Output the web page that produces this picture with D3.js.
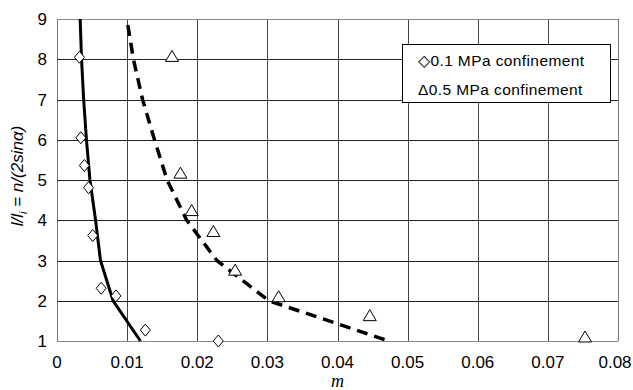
<!DOCTYPE html>
<html>
<head>
<meta charset="utf-8">
<script src="https://cdn.jsdelivr.net/npm/d3@7"></script>
<style>
  body { margin: 0; background: #fff; }
  text { font-family: "Liberation Sans", Arial, sans-serif; }
</style>
</head>
<body>
<div id="chart"></div>
<script>
// measured points, 0.1 MPa confinement
var m01 = [0.0032, 0.0034, 0.0039, 0.0045, 0.0051, 0.0063, 0.0084, 0.0126, 0.0230];
var l01 = [8.05, 6.05, 5.36, 4.81, 3.62, 2.31, 2.12, 1.27, 1.0];
// measured points, 0.5 MPa confinement
var m05 = [0.0164, 0.0176, 0.0192, 0.0223, 0.0254, 0.0316, 0.0446, 0.0753];
var l05 = [8.07, 5.17, 4.24, 3.72, 2.76, 2.1, 1.63, 1.1];
// model curves
var fit01_m = [0.0033, 0.0035, 0.0038, 0.0042, 0.0047, 0.0055, 0.0062, 0.0080, 0.0119];
var fit01_l = [9, 8, 7, 6, 5, 4, 3, 2, 1];
var fit05_m = [0.0101, 0.0109, 0.0122, 0.0139, 0.0157, 0.0185, 0.0228, 0.0302, 0.0473];
var fit05_l = [8.85, 8, 7, 6, 5, 4, 3, 2, 1];

var xTicks = [0, 0.01, 0.02, 0.03, 0.04, 0.05, 0.06, 0.07, 0.08];
var yTicks = [1, 2, 3, 4, 5, 6, 7, 8, 9];

var W = 633, H = 390;
var margin = {left: 57, right: 15, top: 19, bottom: 49};

var svg = d3.select("#chart").append("svg")
  .attr("width", W).attr("height", H);

var x = d3.scaleLinear().domain([0, 0.08]).range([margin.left, W - margin.right]);
var y = d3.scaleLinear().domain([1, 9]).range([H - margin.bottom, margin.top]);

// grid
svg.append("g").selectAll("line.v")
  .data(xTicks).enter().append("line")
  .attr("x1", function(d){ return Math.round(x(d)) + 0.5; })
  .attr("x2", function(d){ return Math.round(x(d)) + 0.5; })
  .attr("y1", y(9)).attr("y2", y(1))
  .style("stroke", function(d, i){ return (i == 0 || i == xTicks.length - 1) ? "#777" : "#444"; });

svg.append("g").selectAll("line.h")
  .data(yTicks).enter().append("line")
  .attr("y1", function(d){ return Math.round(y(d)) + 0.5; })
  .attr("y2", function(d){ return Math.round(y(d)) + 0.5; })
  .attr("x1", x(0)).attr("x2", x(0.08))
  .style("stroke", function(d, i){ return (i == 0 || i == yTicks.length - 1) ? "#888" : "#222"; });

// tick labels
svg.append("g").selectAll("text")
  .data(xTicks).enter().append("text")
  .attr("x", function(d, i){ return x(d) - (i == xTicks.length - 1 ? 3 : 0); })
  .attr("y", H - margin.bottom + 27)
  .attr("text-anchor", "middle")
  .style("font-size", "17px")
  .text(function(d){ return d === 0 ? "0" : d3.format(".2f")(d); });

svg.append("g").selectAll("text")
  .data(yTicks).enter().append("text")
  .attr("x", margin.left - 10)
  .attr("y", function(d){ return y(d) + 6; })
  .attr("text-anchor", "end")
  .style("font-size", "17px")
  .text(function(d){ return d; });

// axis titles
svg.append("text")
  .attr("x", (x(0) + x(0.08)) / 2)
  .attr("y", H - 3)
  .attr("text-anchor", "middle")
  .style("font-family", "'Liberation Serif', serif")
  .style("font-size", "18px").style("font-style", "italic")
  .text("m");

var yt = svg.append("text")
  .attr("transform", "translate(23," + 176 + ") rotate(-90)")
  .attr("text-anchor", "middle")
  .style("font-size", "17px").style("font-style", "italic");
yt.append("tspan").text("l/l");
yt.append("tspan").attr("dy", 4).style("font-size", "11px").text("i");
yt.append("tspan").attr("dy", -4).text(" = n/(2sin");
yt.append("tspan").text("α)");

// model lines
var line = d3.line()
  .x(function(d){ return x(d[0]); })
  .y(function(d){ return y(d[1]); });

svg.append("path")
  .datum(d3.zip(fit01_m, fit01_l))
  .attr("d", line)
  .style("fill", "none").style("stroke", "#000").style("stroke-width", 3);

svg.append("path")
  .datum(d3.zip(fit05_m, fit05_l))
  .attr("d", line)
  .style("fill", "none").style("stroke", "#000").style("stroke-width", 3.5)
  .style("stroke-dasharray", "11,7");

// markers
svg.append("g").selectAll("path")
  .data(d3.zip(m01, l01)).enter().append("path")
  .attr("transform", function(d){ return "translate(" + x(d[0]) + "," + y(d[1]) + ")"; })
  .attr("d", "M0,-6L5,0L0,6L-5,0Z")
  .style("fill", "#fff").style("stroke", "#000").style("stroke-width", 1);

svg.append("g").selectAll("path")
  .data(d3.zip(m05, l05)).enter().append("path")
  .attr("transform", function(d){ return "translate(" + x(d[0]) + "," + y(d[1]) + ")"; })
  .attr("d", "M0,-6L6.5,5L-6.5,5Z")
  .style("fill", "#fff").style("stroke", "#000").style("stroke-width", 1);

// legend
var lg = svg.append("g");
lg.append("rect")
  .attr("x", 402.5).attr("y", 44.5).attr("width", 208).attr("height", 58)
  .style("fill", "#fff").style("stroke", "#000");
lg.append("text").attr("x", 418).attr("y", 66)
  .style("font-size", "15.5px").style("letter-spacing", "0.4px")
  .text("◇0.1 MPa confinement");
lg.append("text").attr("x", 418).attr("y", 95)
  .style("font-size", "15.5px").style("letter-spacing", "0.4px")
  .text("Δ0.5 MPa confinement");
</script>
</body>
</html>
